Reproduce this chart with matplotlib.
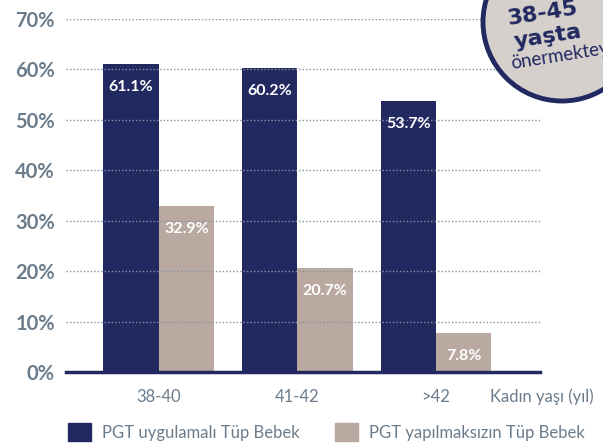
import matplotlib
matplotlib.use("Agg")
import matplotlib.pyplot as plt
from matplotlib.patches import Circle, Patch
import numpy as np

categories = ["38-40", "41-42", ">42"]
pgt_values = [61.1, 60.2, 53.7]
nopgt_values = [32.9, 20.7, 7.8]
series_names = ["PGT uygulamalı Tüp Bebek", "PGT yapılmaksızın Tüp Bebek"]
yticks = [0, 10, 20, 30, 40, 50, 60, 70]
xlabel_text = "Kadın yaşı (yıl)"
badge_lines = ["38-45", "yaşta", "önermektey"]

NAVY = "#222960"
TAUPE = "#baa9a1"
GRAY = "#6a7c8c"

plt.rcParams['font.family'] = ['Lato', 'DejaVu Sans']

fig = plt.figure(figsize=(6.03, 4.44), dpi=100)
ax = fig.add_axes([66/603, 1-372/444, (540-66)/603, (372-19)/444])

x = np.arange(len(categories))
w = 0.4
b1 = ax.bar(x - w/2, pgt_values, width=w, color=NAVY, zorder=1)
b2 = ax.bar(x + w/2, nopgt_values, width=w, color=TAUPE, zorder=1)

for bars, vals in ((b1, pgt_values), (b2, nopgt_values)):
    for r, v in zip(bars, vals):
        ax.annotate(f"{v:.1f}%", (r.get_x() + r.get_width()/2, v),
                    xytext=(0, -23), textcoords="offset pixels",
                    ha="center", va="center", color="white", fontsize=11.5,
                    fontweight="bold", zorder=3)

ax.set_xlim(-0.67, 2.75)
ax.set_ylim(0, 70)
ax.set_yticks(yticks)
ax.set_yticklabels([f"{t}%" for t in yticks])
ax.set_xticks(x)
ax.set_xticklabels(categories)
ax.yaxis.grid(True, linestyle=(0, (1, 1.5)), color="#8393a3", linewidth=1, zorder=2)
ax.set_axisbelow(False)
for s in ["top", "right", "left"]:
    ax.spines[s].set_visible(False)
ax.spines["bottom"].set_color(NAVY)
ax.spines["bottom"].set_linewidth(2.5)
ax.spines["bottom"].set_zorder(4)
ax.tick_params(axis="y", length=0, pad=8, labelsize=14.5, labelcolor=GRAY)
ax.tick_params(axis="x", length=0, pad=12, labelsize=12, labelcolor=GRAY)
for t in ax.get_yticklabels():
    t.set_fontweight("bold")

fig.text(490/603, 1-397/444, xlabel_text, color=GRAY, fontsize=12, va="center", ha="left")

handles = [Patch(color=NAVY), Patch(color=TAUPE)]
fig.legend(handles, series_names, loc="center left", bbox_to_anchor=(68/603, 1-432/444),
           ncol=2, frameon=False, fontsize=12, labelcolor=GRAY, borderpad=0,
           borderaxespad=0,
           handlelength=1.4, handleheight=1.2, handletextpad=0.65, columnspacing=2.1)

# badge
ov = fig.add_axes([0, 0, 1, 1], zorder=10)
ov.set_xlim(0, 603)
ov.set_ylim(444, 0)
ov.axis("off")
ov.add_patch(Circle((562, 22), 79, facecolor="#d6d0cd", edgecolor=NAVY, linewidth=3.5))
ov.text(543, 14, badge_lines[0], rotation=9, ha="center", va="center", color=NAVY,
        fontsize=16, fontweight="bold", family="DejaVu Sans")
ov.text(548, 37, badge_lines[1], rotation=9, ha="center", va="center", color=NAVY,
        fontsize=16, fontweight="bold", family="DejaVu Sans")
ov.text(560, 56, badge_lines[2], rotation=9, ha="center", va="center", color=NAVY,
        fontsize=13.5)

fig.savefig("out.png", dpi=100)
